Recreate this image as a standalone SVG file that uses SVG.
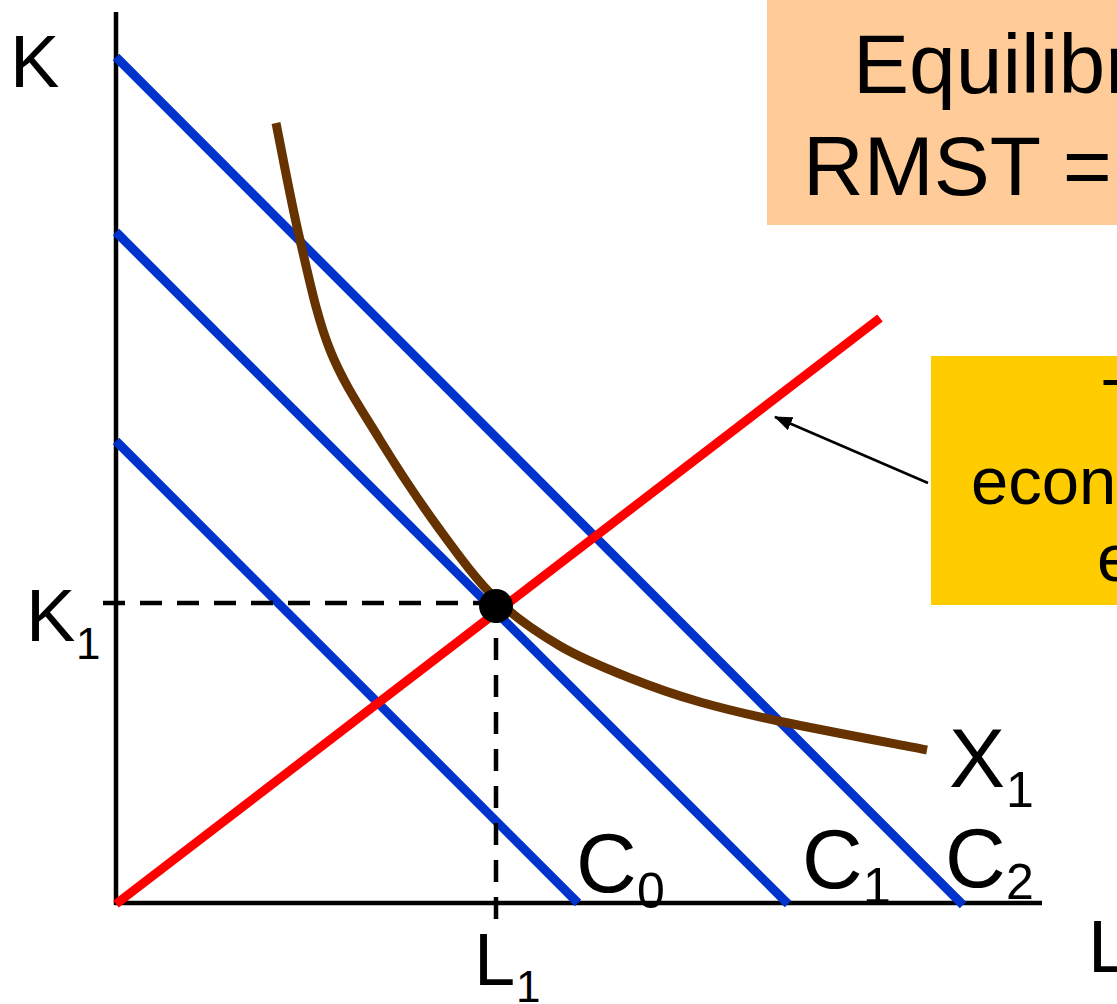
<svg xmlns="http://www.w3.org/2000/svg" width="1117" height="1004" viewBox="0 0 1117 1004">
<defs>
<style>
text{font-family:"Liberation Sans",Arial,sans-serif;fill:#000}
.axis{stroke:#000;stroke-width:4.5;fill:none}
.dash{stroke:#000;stroke-width:4.5;stroke-dasharray:22 15;fill:none}
.iso{stroke:#0033CC;stroke-width:9;fill:none}
.exp{stroke:#FF0000;stroke-width:9;fill:none}
.quant{stroke:#663300;stroke-width:9;fill:none}
.lab{font-size:74px}
.labc{font-size:84px}
.sub{font-size:44px}
.subc{font-size:50px}
.note{font-size:67px}
.title{font-size:84px}
</style>
<marker id="ah" markerWidth="18" markerHeight="14" refX="17" refY="7" orient="auto" markerUnits="userSpaceOnUse">
<path d="M0,0 L18,7 L0,14 z" fill="#000"/>
</marker>
</defs>
<rect width="1117" height="1004" fill="#fff"/>

<g id="title-box">
<rect x="767" y="0" width="360" height="225" fill="#FFCC99"/>
<text class="title" x="853" y="93">Equilibr</text>
<text class="title" x="803" y="195">RMST =</text>
</g>

<g id="axes">
<line class="axis" x1="116" y1="12" x2="116" y2="905"/>
<line class="axis" x1="114" y1="903" x2="1042" y2="903"/>
<text class="lab" x="10" y="87">K</text>
<text class="lab" x="1088" y="972">L</text>
</g>

<g id="isocosts">
<line class="iso" x1="116" y1="57" x2="963" y2="905"/>
<line class="iso" x1="116" y1="232" x2="788" y2="904"/>
<line class="iso" x1="116" y1="441" x2="578" y2="903"/>
</g>

<g id="isoquant">
<path class="quant" d="M276,123 C280,142.5 291,202.2 300,240 C309,277.8 316.7,316.7 330,350 C343.3,383.3 361.7,410 380,440 C398.3,470 420.5,503.3 440,530 C459.5,556.7 477,580.7 497,600 C517,619.3 537.8,633 560,646 C582.2,659 606.7,668.7 630,678 C653.3,687.3 674.5,694.7 700,702 C725.5,709.3 745.2,714 783,722 C820.8,730 903,745.3 927,750"/>
</g>

<g id="expansion-path">
<line class="exp" x1="116" y1="904" x2="880" y2="318"/>
</g>

<g id="equilibrium">
<line class="dash" x1="103" y1="603" x2="496" y2="603"/>
<line class="dash" x1="496" y1="601" x2="496" y2="920"/>
<circle cx="496" cy="606" r="17" fill="#000"/>
</g>

<g id="labels">
<text class="lab" x="26" y="641">K</text><text class="sub" x="76" y="659">1</text>
<text class="lab" x="474" y="985">L</text><text class="sub" x="516" y="1002">1</text>
<text class="labc" x="576" y="892">C</text><text class="subc" x="637" y="908">0</text>
<text class="labc" x="802" y="888">C</text><text class="subc" x="863" y="903">1</text>
<text class="labc" x="945" y="887">C</text><text class="subc" x="1006" y="899">2</text>
<text class="labc" x="949" y="787">X</text><text class="subc" x="1006" y="807">1</text>
</g>

<g id="note-box">
<rect x="931" y="356" width="200" height="249" fill="#FFCC00"/>
<text class="note" x="1102" y="426">T</text>
<text class="note" x="971" y="504">econo</text>
<text class="note" x="1097" y="581">e</text>
</g>

<g id="connectors">
<line x1="928" y1="483" x2="775" y2="417" stroke="#000" stroke-width="2.5" marker-end="url(#ah)"/>
</g>
</svg>
